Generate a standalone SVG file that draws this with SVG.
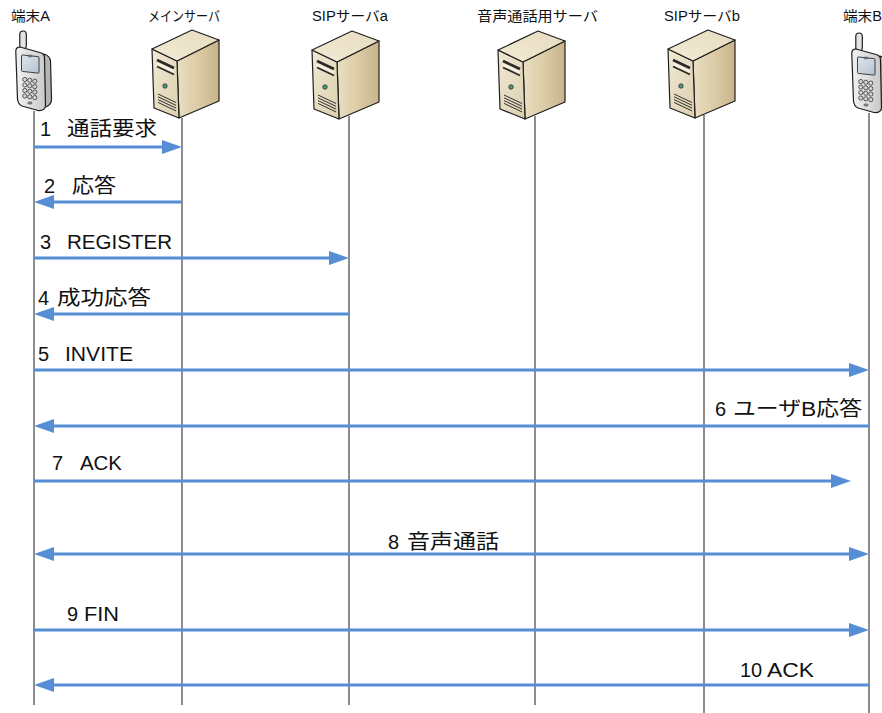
<svg xmlns="http://www.w3.org/2000/svg" width="882" height="713" viewBox="0 0 882 713">
  <style>
    .hdr { font-family: "Liberation Sans", "Noto Sans CJK JP", sans-serif; font-size: 14px; fill: #111; }
    .lbl { font-family: "Liberation Sans", "Noto Sans CJK JP", sans-serif; font-size: 20px; fill: #111; }
    .life { stroke: #404040; stroke-width: 1.2; fill: none; }
    .msg { stroke: #558ED5; stroke-width: 3; fill: none; }
    .edge { stroke: #1e1e1e; stroke-width: 1.2; stroke-linejoin: round; }
    .key { fill: #d8d8d8; stroke: #333; stroke-width: 0.8; }
  </style>
  <defs>
    <marker id="head" viewBox="0 0 20 14" markerUnits="userSpaceOnUse" markerWidth="20" markerHeight="14" refX="2" refY="7" orient="auto-start-reverse">
      <path d="M0,0 L20,7 L0,14 Z" fill="#558ED5"/>
    </marker>
    <linearGradient id="gTop" x1="0" y1="1" x2="1" y2="0">
      <stop offset="0" stop-color="#F3EBD6"/>
      <stop offset="1" stop-color="#E6DBBE"/>
    </linearGradient>
    <linearGradient id="gFront" x1="0" y1="0" x2="1" y2="1">
      <stop offset="0" stop-color="#F1E9D4"/>
      <stop offset="1" stop-color="#DCCFAE"/>
    </linearGradient>
    <linearGradient id="gSide" x1="0" y1="0" x2="1" y2="0">
      <stop offset="0" stop-color="#EADFC3"/>
      <stop offset="0.5" stop-color="#DCCCA6"/>
      <stop offset="1" stop-color="#C7B38B"/>
    </linearGradient>
    <linearGradient id="gPhone" x1="0" y1="0" x2="1" y2="0">
      <stop offset="0" stop-color="#F2F2F2"/>
      <stop offset="1" stop-color="#C9C9C9"/>
    </linearGradient>
    <linearGradient id="gScreen" x1="0" y1="0" x2="1" y2="1">
      <stop offset="0" stop-color="#DDE6EE"/>
      <stop offset="1" stop-color="#B4C2CE"/>
    </linearGradient>

    <!-- tower server, origin at the top-left corner of the front face -->
    <g id="server">
      <path class="edge" d="M25,12 L67,-9 L67,52 L27,69 Z" fill="url(#gSide)"/>
      <path class="edge" d="M0,0 L25,12 L27,69 L2,59 Z" fill="url(#gFront)"/>
      <path class="edge" d="M0,0 L40,-19 L67,-9 L25,12 Z" fill="url(#gTop)"/>
      <!-- drive bays -->
      <path d="M5,11 L22,19" stroke="#2a2a2a" stroke-width="2.6"/>
      <path d="M5,14.5 L22,22.5" stroke="#f7f2e4" stroke-width="2"/>
      <path d="M5,17.5 L22,25.5" stroke="#2a2a2a" stroke-width="1.8"/>
      <!-- power LED -->
      <circle cx="13" cy="37" r="2.2" fill="#4E9C80" stroke="#2a2a2a" stroke-width="0.8"/>
      <!-- vents -->
      <path d="M6,45 L24,53.5 M6,47.8 L24,56.3 M6,50.6 L24,59.1 M6,53.4 L24,61.9" stroke="#333" stroke-width="1"/>
    </g>

    <!-- handset -->
    <g id="phone">
      <rect class="edge" x="19.8" y="31" width="6.5" height="18" rx="3.2" fill="#E4E4E4"/>
      <path class="edge" d="M44,54 Q50,56 50.5,61 L51.5,99 Q51.5,104 47,106.5 L45,107 Z" fill="#B5B5B5"/>
      <path class="edge" d="M20,47 Q15.5,47 15.8,52 L17.5,99 Q18,104 22,106 L38,110.5 Q45,111 45.5,106 L44.5,58 Q44.5,53.5 40,52.5 Z" fill="url(#gPhone)"/>
      <rect x="21.5" y="55" width="17.5" height="16.5" rx="1" fill="url(#gScreen)" stroke="#333" stroke-width="0.9" transform="skewY(6) translate(0,-2.4)"/>
      <ellipse cx="30" cy="56" rx="2" ry="1" fill="#999" stroke="#333" stroke-width="0.6"/>
      <circle class="key" cx="24.8" cy="79.5" r="2.1"/>
      <circle class="key" cx="29.8" cy="80.3" r="2.1"/>
      <circle class="key" cx="34.8" cy="81.1" r="2.1"/>
      <circle class="key" cx="24.8" cy="85" r="2.1"/>
      <circle class="key" cx="29.8" cy="85.8" r="2.1"/>
      <circle class="key" cx="34.8" cy="86.6" r="2.1"/>
      <circle class="key" cx="24.8" cy="90.5" r="2.1"/>
      <circle class="key" cx="29.8" cy="91.3" r="2.1"/>
      <circle class="key" cx="34.8" cy="92.1" r="2.1"/>
      <circle class="key" cx="24.8" cy="96" r="2.1"/>
      <circle class="key" cx="29.8" cy="96.8" r="2.1"/>
      <circle class="key" cx="34.8" cy="97.6" r="2.1"/>
      <ellipse cx="30" cy="103" rx="2.2" ry="1.1" fill="#999" stroke="#333" stroke-width="0.6"/>
    </g>
  </defs>

  <rect width="882" height="713" fill="#ffffff"/>

  <!-- participants -->
  <g id="terminal-a">
    <text class="hdr" x="11" y="21" textLength="39" lengthAdjust="spacingAndGlyphs">端末A</text>
    <use href="#phone"/>
    <line class="life" x1="34" y1="111" x2="34" y2="705"/>
  </g>
  <g id="main-server">
    <text class="hdr" x="148" y="21" textLength="72" lengthAdjust="spacingAndGlyphs">メインサーバ</text>
    <use href="#server" transform="translate(152,49)"/>
    <line class="life" x1="182" y1="118" x2="182" y2="705"/>
  </g>
  <g id="sip-server-a">
    <text class="hdr" x="312" y="21" textLength="76" lengthAdjust="spacingAndGlyphs">SIPサーバa</text>
    <use href="#server" transform="translate(312,50)"/>
    <line class="life" x1="349" y1="116" x2="349" y2="705"/>
  </g>
  <g id="voice-server">
    <text class="hdr" x="477" y="21" textLength="121" lengthAdjust="spacingAndGlyphs">音声通話用サーバ</text>
    <use href="#server" transform="translate(498,50)"/>
    <line class="life" x1="535" y1="116" x2="535" y2="705"/>
  </g>
  <g id="sip-server-b">
    <text class="hdr" x="664" y="21" textLength="76" lengthAdjust="spacingAndGlyphs">SIPサーバb</text>
    <use href="#server" transform="translate(668,49)"/>
    <line class="life" x1="704" y1="115" x2="704" y2="713"/>
  </g>
  <g id="terminal-b">
    <text class="hdr" x="843" y="21" textLength="39" lengthAdjust="spacingAndGlyphs">端末B</text>
    <use href="#phone" transform="translate(836,2)"/>
    <line class="life" x1="869" y1="113" x2="869" y2="713"/>
  </g>

  <!-- messages -->
  <g id="connectors">
    <line class="msg" x1="34" y1="147" x2="164" y2="147" marker-end="url(#head)"/>
    <line class="msg" x1="182" y1="202" x2="52" y2="202" marker-end="url(#head)"/>
    <line class="msg" x1="34" y1="258" x2="331" y2="258" marker-end="url(#head)"/>
    <line class="msg" x1="349" y1="314" x2="52" y2="314" marker-end="url(#head)"/>
    <line class="msg" x1="34" y1="370" x2="851" y2="370" marker-end="url(#head)"/>
    <line class="msg" x1="870" y1="426" x2="52" y2="426" marker-end="url(#head)"/>
    <line class="msg" x1="34" y1="481" x2="833" y2="481" marker-end="url(#head)"/>
    <line class="msg" x1="52" y1="554" x2="851" y2="554" marker-start="url(#head)" marker-end="url(#head)"/>
    <line class="msg" x1="33" y1="630" x2="851" y2="630" marker-end="url(#head)"/>
    <line class="msg" x1="870" y1="685" x2="52" y2="685" marker-end="url(#head)"/>
  </g>

  <!-- message labels: step number, then the message name -->
  <g id="labels">
    <text class="lbl" y="136"><tspan x="40">1</tspan><tspan x="67" textLength="90" lengthAdjust="spacingAndGlyphs">通話要求</tspan></text>
    <text class="lbl" y="193"><tspan x="44">2</tspan><tspan x="72" textLength="44" lengthAdjust="spacingAndGlyphs">応答</tspan></text>
    <text class="lbl" y="249"><tspan x="40">3</tspan><tspan x="67" textLength="105" lengthAdjust="spacingAndGlyphs">REGISTER</tspan></text>
    <text class="lbl" y="305"><tspan x="38">4</tspan><tspan x="57" textLength="94" lengthAdjust="spacingAndGlyphs">成功応答</tspan></text>
    <text class="lbl" y="361"><tspan x="38">5</tspan><tspan x="65" textLength="68" lengthAdjust="spacingAndGlyphs">INVITE</tspan></text>
    <text class="lbl" y="416"><tspan x="715">6</tspan><tspan x="733" textLength="129" lengthAdjust="spacingAndGlyphs">ユーザB応答</tspan></text>
    <text class="lbl" y="470"><tspan x="52">7</tspan><tspan x="80" textLength="42" lengthAdjust="spacingAndGlyphs">ACK</tspan></text>
    <text class="lbl" y="549"><tspan x="388">8</tspan><tspan x="407" textLength="92" lengthAdjust="spacingAndGlyphs">音声通話</tspan></text>
    <text class="lbl" y="621"><tspan x="67">9</tspan><tspan x="84" textLength="35" lengthAdjust="spacingAndGlyphs">FIN</tspan></text>
    <text class="lbl" y="677"><tspan x="740">10</tspan><tspan x="767" textLength="47" lengthAdjust="spacingAndGlyphs">ACK</tspan></text>
  </g>
</svg>
